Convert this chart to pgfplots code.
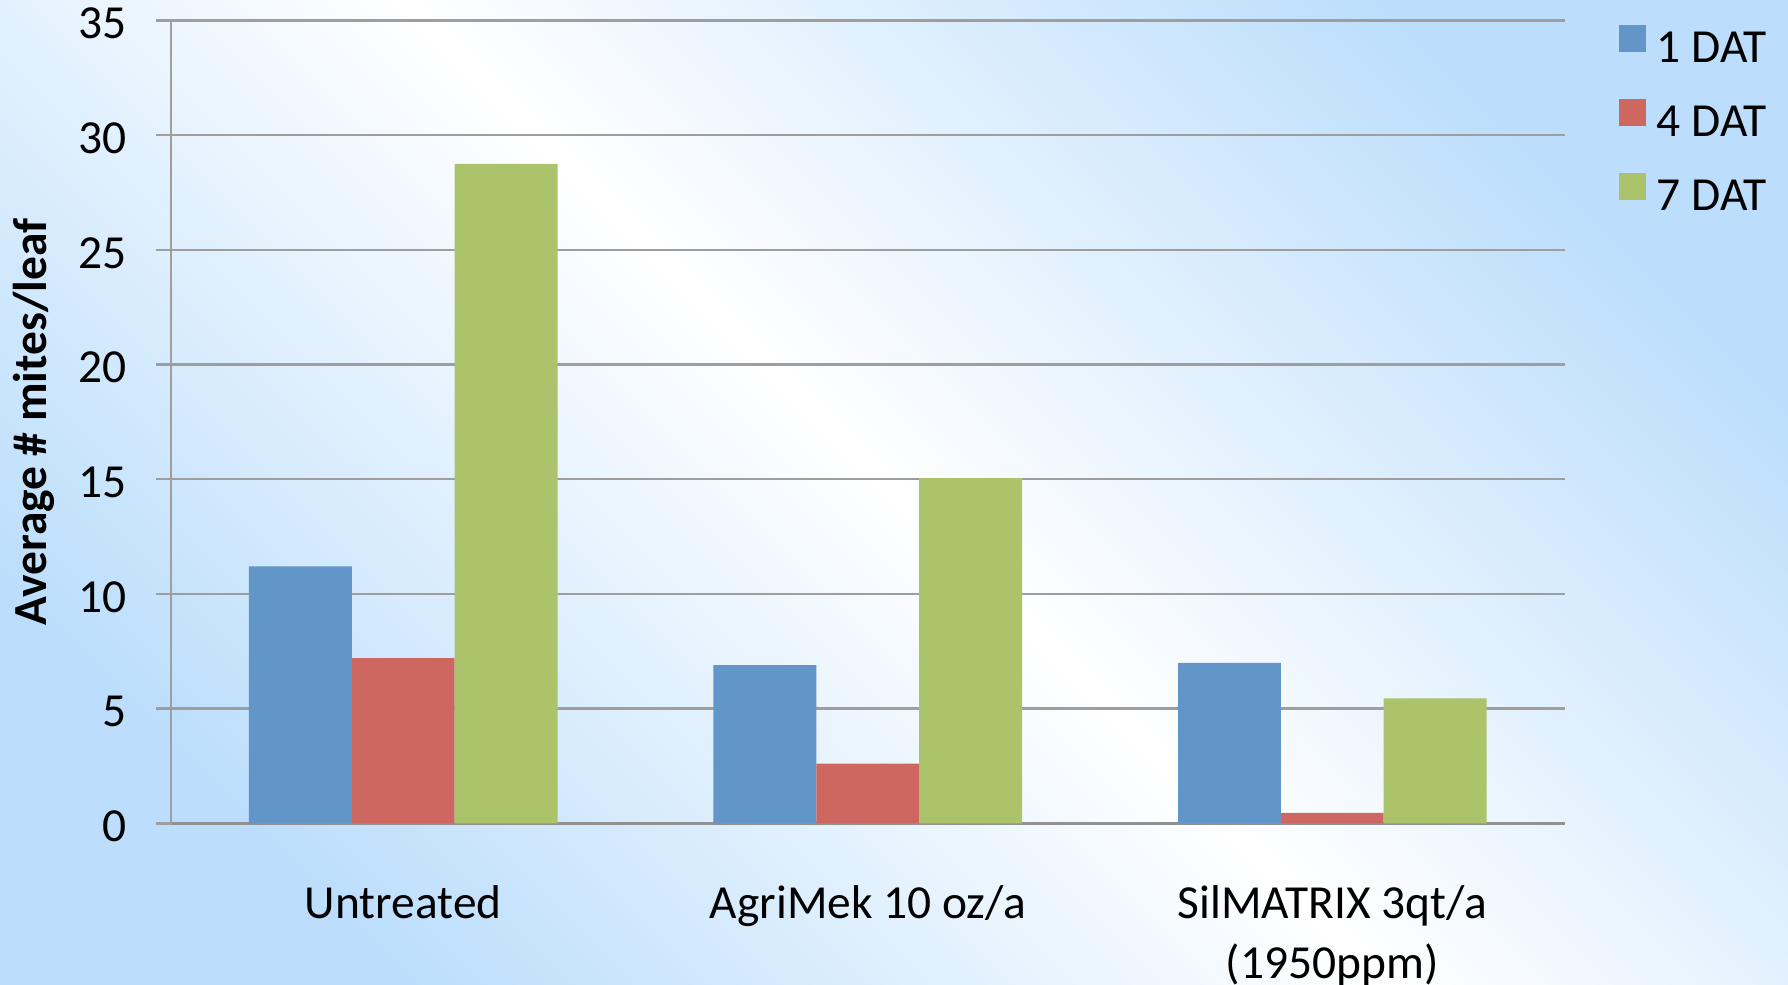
\documentclass[border=0pt]{standalone}
\usepackage{fontspec}
\setmainfont{Carlito}
\usepackage{pgfplots}
\pgfplotsset{compat=1.18}
\definecolor{cblue}{RGB}{98,150,200}
\definecolor{cred}{RGB}{205,103,96}
\definecolor{cgreen}{RGB}{171,196,107}
\definecolor{bgblue}{RGB}{188,222,252}
\definecolor{gridgray}{RGB}{158,158,158}
\definecolor{axgray}{RGB}{145,145,145}
\begin{document}
\begin{tikzpicture}[font=\fontsize{13.5}{17}\selectfont]
\path[use as bounding box] (0,0) rectangle (178.8mm,98.4mm);
\shade[left color=bgblue, right color=bgblue, middle color=white, shading angle=-45] (0,0) rectangle (178.8mm,98.4mm);
\begin{axis}[
  at={(17.1mm,16.07mm)}, anchor=south west,
  scale only axis, width=139.35mm, height=80.28mm,
  ybar=0pt, bar width=0.2214,
  xmin=-0.5, xmax=2.5, ymin=0, ymax=35,
  xtick={0,1,2},
  xticklabels={Untreated, AgriMek 10 oz/a, {SilMATRIX 3qt/a\\(1950ppm)}},
  xticklabel style={align=center, anchor=north, inner sep=0pt, yshift=-4.65mm},
  ytick={0,5,...,35},
  yticklabel style={anchor=east, inner sep=0pt, xshift=-2.85mm, yshift=-0.3mm},
  /pgf/number format/assume math mode=true,
  axis x line*=bottom, axis y line*=left,
  x axis line style={axgray, line width=1pt},
  y axis line style={gridgray, line width=0.6pt},
  tick align=outside, major tick length=1.5mm,
  xtick style={draw=none},
  ytick style={gridgray, line width=0.7pt},
  ymajorgrids, major grid style={gridgray, line width=0.7pt},
  ylabel={\bfseries Average \# mites/leaf},
  ylabel style={at={(axis description cs:-0.0983,0.5)}, anchor=center},
  legend cell align=left,
  legend image code/.code={\fill[#1] (0mm,0.32em-1.35mm) rectangle (2.7mm,0.32em+1.35mm);},
  legend style={at={(axis description cs:1.0384,0.995)}, anchor=north west,
    draw=none, fill=none, inner sep=0pt, row sep=2.4mm, column sep=0.4mm},
]
\addplot[fill=cblue, draw=none] coordinates {(0,11.2) (1,6.9) (2,7.0)};
\addplot[fill=cred, draw=none] coordinates {(0,7.2) (1,2.6) (2,0.45)};
\addplot[fill=cgreen, draw=none] coordinates {(0,28.75) (1,15.05) (2,5.45)};
\legend{1 DAT, 4 DAT, 7 DAT}
\end{axis}
\end{tikzpicture}
\end{document}
